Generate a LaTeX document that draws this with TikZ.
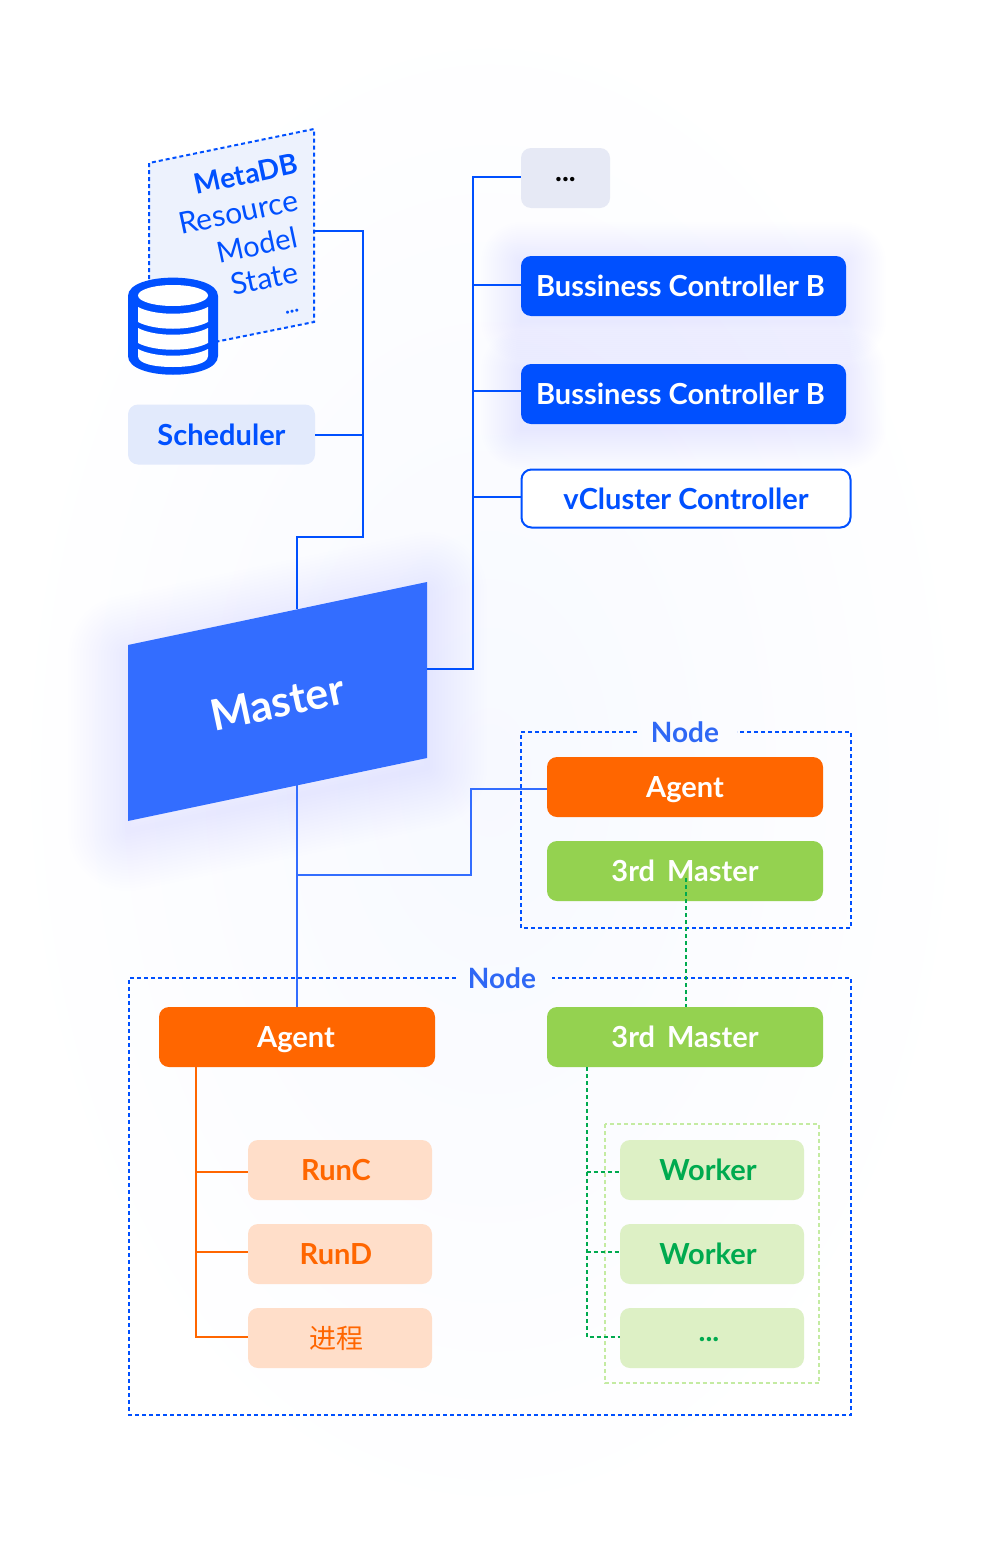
\documentclass[tikz,border=0pt]{standalone}
\usepackage{fontspec}
\setmainfont{Lato}
\newfontfamily\cjk{Noto Sans CJK SC}
\definecolor{cblue}{HTML}{0050FF}
\definecolor{cmaster}{HTML}{336DFF}
\definecolor{cnode}{HTML}{2F68F5}
\definecolor{corange}{HTML}{FF6600}
\definecolor{cgreen}{HTML}{94D250}
\definecolor{cdgreen}{HTML}{00AA4F}
\definecolor{clgreen}{HTML}{DDF0C5}
\definecolor{cdash}{HTML}{C4EBA2}
\definecolor{clorange}{HTML}{FFDEC9}
\definecolor{clblue}{HTML}{E2EAFC}
\definecolor{cpanel}{HTML}{EDF2FD}
\definecolor{cgrey}{HTML}{E6E9F5}
\definecolor{cbgin}{HTML}{F7F9FF}
\tikzset{
  box/.style={rounded corners=10pt,inner sep=0pt,text height=25pt,text depth=4pt,font=\bfseries\fontsize{29}{32}\selectfont,text=white},
  dotsbox/.style={text height=6pt,text depth=0pt},
  boxb/.style={box,fill=cblue},
  boxo/.style={box,fill=corange,minimum width=276pt,minimum height=60pt},
  boxg/.style={box,fill=cgreen,minimum width=276pt,minimum height=60pt},
  boxlo/.style={box,fill=clorange,text=corange,minimum width=184pt,minimum height=60pt},
  boxlg/.style={box,fill=clgreen,text=cdgreen,minimum width=184pt,minimum height=60pt},
  conn/.style={draw=cblue,line width=2pt},
  connm/.style={draw=cmaster,line width=2pt},
  conno/.style={draw=corange,line width=2pt},
  conng/.style={draw=cdgreen,line width=2pt,dash pattern=on 4pt off 3pt},
  dashb/.style={draw=cblue,line width=2pt,dash pattern=on 4pt off 3pt},
  slant/.style={anchor=east,rotate=12,text=cblue,inner sep=0pt,text height=22pt,text depth=6pt,font=\fontsize{30}{32}\selectfont},
  nodelabel/.style={text=cnode,inner sep=0pt,font=\bfseries\fontsize{28}{32}\selectfont},
}
\newcommand\glowrect[6]{%
  \foreach \s in {4,8,...,80}{\draw[#5,opacity=#6,line width=\s pt,line join=round] (#1,#2) rectangle (#3,#4);}}
\begin{document}
\begin{tikzpicture}[x=1pt,y=-1pt]
\useasboundingbox (0,0) rectangle (980,1544);
\shade[inner color=cbgin,outer color=white] (0,0) rectangle (980,1544);
% glows
\foreach \s in {6,12,...,120}{\draw[cmaster,opacity=.0022,line width=\s pt,line join=round] (128,655) -- (427,592) -- (427,768) -- (128,831) -- cycle;}
\glowrect{521}{262}{846}{321}{cblue}{.002}
\glowrect{521}{370}{846}{429}{cblue}{.002}
\glowrect{547}{762}{823}{822}{corange}{.0012}
\glowrect{547}{846}{823}{906}{cgreen}{.0018}
\glowrect{159}{1012}{435}{1072}{corange}{.0012}
\glowrect{547}{1012}{823}{1072}{cgreen}{.0018}
% MetaDB panel
\fill[cpanel] (149,163) -- (314,129) -- (314,322) -- (149,356) -- cycle;
\draw[dashb] (149,300) -- (149,163) -- (314,129) -- (314,322) -- (200,345);
\coordinate (panel) at (314,231);
\node[slant,font=\bfseries\fontsize{28}{32}\selectfont] (tmeta) at (298,165) {MetaDB};
\node[slant] (tres) at (298,202) {Resource};
\node[slant,font=\fontsize{29}{32}\selectfont] (tmodel) at (298,239) {Model};
\node[slant] (tstate) at (298,274) {State};
\node[slant,font=\bfseries\fontsize{20}{22}\selectfont] (tdots) at (298,304) {...};
% database icon
\fill[cblue] (128,296) .. controls (128,271.5) and (218,271.5) .. (218,296) -- (218,356) .. controls (218,381) and (128,381) .. (128,356) -- cycle;
\fill[white] (173,295.5) ellipse [x radius=35,y radius=10.5];
\fill[white] (138,307) .. controls (155,316) and (191,316) .. (208,307) -- (208,322) .. controls (191,331) and (155,331) .. (138,322) -- cycle;
\fill[white] (138,328) .. controls (155,337) and (191,337) .. (208,328) -- (208,343) .. controls (191,352) and (155,352) .. (138,343) -- cycle;
\fill[white] (138,349) .. controls (155,358) and (191,358) .. (208,349) -- (208,356) .. controls (208,364) and (191,367) .. (173,367) .. controls (155,367) and (138,364) .. (138,356) -- cycle;
% boxes
\node[box,fill=clblue,text=cblue,minimum width=187pt,minimum height=60pt] (sched) at (221.5,434.5) {Scheduler};
\node[box,dotsbox,fill=cgrey,text=black,minimum width=89pt,minimum height=60pt] (dots) at (565.5,178) {...};
\node[boxb,minimum width=325pt,minimum height=60pt] (ctrla) at (683.5,286) {Bussiness Controller B\kern6pt};
\node[boxb,minimum width=325pt,minimum height=60pt] (ctrlb) at (683.5,394) {Bussiness Controller B\kern6pt};
\node[box,draw=cblue,line width=2pt,fill=white,text=cblue,minimum width=329pt,minimum height=58pt] (vc) at (686,498.5) {vCluster Controller};
% master
\fill[cmaster] (128,645) -- (427,582) -- (427,758) -- (128,821) -- cycle;
\node[rotate=12,text=white,inner sep=0pt,text height=32pt,text depth=0pt,font=\bfseries\fontsize{43}{48}\selectfont] (master) at (277,702) {Master};
\coordinate (mtop) at (297,609);
\coordinate (mright) at (427,669);
\coordinate (mbot) at (297,785);
% node groups
\draw[dashb] (637,732) -- (521,732) -- (521,928) -- (851,928) -- (851,732) -- (737,732);
\node[nodelabel] (labela) at (685,732) {Node};
\draw[dashb] (456,978) -- (129,978) -- (129,1415) -- (851,1415) -- (851,978) -- (552,978);
\node[nodelabel] (labelb) at (502,978) {Node};
\draw[draw=cdash,line width=2pt,dash pattern=on 4pt off 3pt] (604.5,1124) rectangle (819,1383);
\node[boxo] (agenta) at (685,787) {Agent};
\node[boxg] (thirda) at (685,871) {3rd\, Master};
\node[boxo] (agentb) at (297,1037) {Agent\kern2pt};
\node[boxg] (thirdb) at (685,1037) {3rd\, Master};
\node[boxlo] (runc) at (340,1170) {RunC\kern8pt};
\node[boxlo] (rund) at (340,1254) {RunD\kern8pt};
\node[boxlo,font=\cjk\fontsize{27}{30}\selectfont] (proc) at (340,1338) {进程\kern8pt};
\node[boxlg] (wa) at (712,1170) {Worker\kern8pt};
\node[boxlg] (wb) at (712,1254) {Worker\kern8pt};
\node[boxlg,dotsbox] (wc) at (712,1338) {...\kern6pt};
% connectors
\coordinate (j1) at (363,231);
\coordinate (j2) at (363,537);
\coordinate (j3) at (297,537);
\draw[conn] (panel) -- (j1) -- (j2) -- (j3) -- (mtop);
\draw[conn] (sched.east) -- (sched.east -| j1);
\coordinate (t1) at (473,669);
\coordinate (t2) at (473,177);
\draw[conn] (mright) -- (t1) -- (t2) -- (t2 -| dots.west);
\draw[conn] (473,285) -- (ctrla.west |- 0,285);
\draw[conn] (473,391) -- (ctrlb.west |- 0,391);
\draw[conn] (473,497) -- (vc.west |- 0,497);
\coordinate (b1) at (297,875);
\coordinate (b2) at (471,875);
\coordinate (b3) at (471,789);
\draw[connm] (mbot) -- (agentb.north);
\draw[connm] (b1) -- (b2) -- (b3) -- (b3 -| agenta.west);
\coordinate (gs) at (686,878);
\coordinate (ge) at (686,1007);
\draw[conng] (gs) -- (ge);
\coordinate (o0) at (196,1067);
\coordinate (o1) at (196,1337);
\draw[conno] (o0) -- (o1) -- (o1 -| proc.west);
\draw[conno] (196,1172) -- (runc.west |- 0,1172);
\draw[conno] (196,1252) -- (rund.west |- 0,1252);
\coordinate (g0) at (586.5,1067);
\coordinate (g1) at (586.5,1337);
\draw[conng] (g0) -- (g1) -- (g1 -| wc.west);
\draw[conng] (586.5,1172) -- (wa.west |- 0,1172);
\draw[conng] (586.5,1252) -- (wb.west |- 0,1252);
\end{tikzpicture}
\end{document}
